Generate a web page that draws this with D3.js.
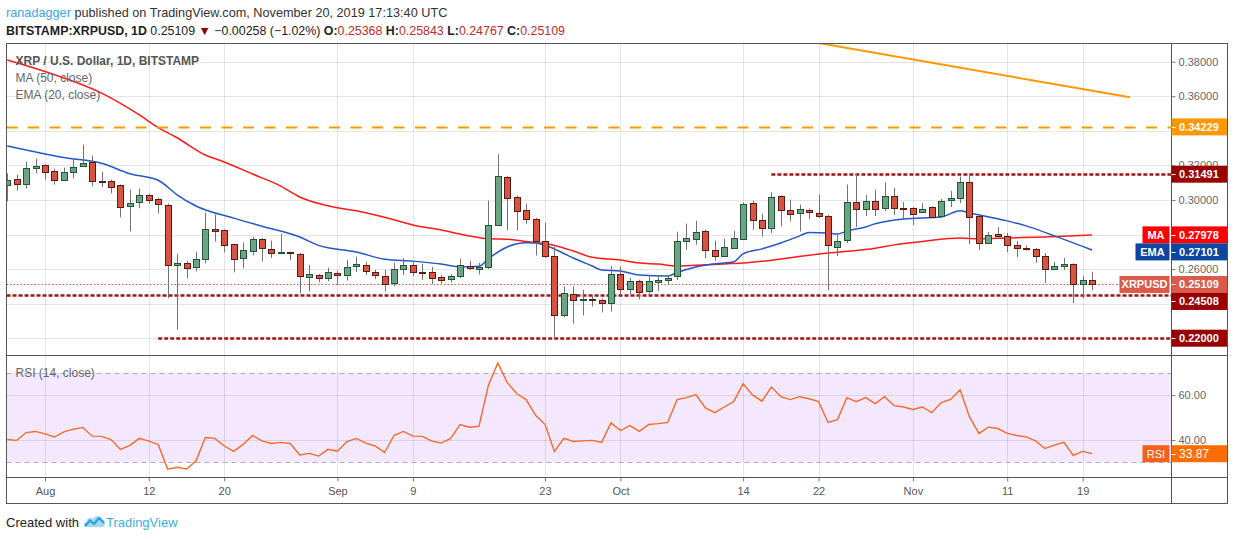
<!DOCTYPE html>
<html>
<head>
<meta charset="utf-8">
<script src="https://cdn.jsdelivr.net/npm/d3@7"></script>
<style>
body { margin: 0; background: #fff; }
svg { display: block; font-family: "Liberation Sans", Arial, sans-serif; }
</style>
</head>
<body>
<svg id="chart" width="1234" height="540"></svg>
<script>
// XRPUSD daily candles (first candle = Jul 28 2019)
var firstDay = "2019-07-28";
var opens = [0.3087,0.3120,0.3093,0.3185,0.3203,0.3168,0.3116,0.3162,0.3197,0.3220,0.3112,0.3110,0.3087,0.2963,0.2988,0.3029,0.3006,0.2971,0.2623,0.2635,
	0.2612,0.2658,0.2834,0.2828,0.2745,0.2664,0.2704,0.2776,0.2716,0.2697,0.2697,0.2687,0.2554,0.2565,0.2548,0.2577,0.2565,0.2617,0.2623,0.2583,
	0.2560,0.2519,0.2600,0.2623,0.2585,0.2583,0.2554,0.2542,0.2560,0.2617,0.2600,0.2612,0.2855,0.3133,0.3017,0.2942,0.2890,0.2762,0.2675,0.2334,
	0.2455,0.2420,0.2424,0.2420,0.2403,0.2571,0.2484,0.2530,0.2472,0.2525,0.2536,0.2559,0.2764,0.2774,0.2822,0.2710,0.2675,0.2722,0.2774,0.2982,
	0.2884,0.2838,0.3023,0.2942,0.2925,0.2942,0.2925,0.2907,0.2728,0.2768,0.2988,0.2948,0.2994,0.2953,0.3023,0.2953,0.2953,0.2930,0.2959,0.2907,
	0.3000,0.3011,0.3104,0.2907,0.2751,0.2803,0.2791,0.2739,0.2722,0.2716,0.2675,0.2600,0.2617,0.2629,0.2511,0.25368];
var highs = [0.3154,0.3147,0.3222,0.3239,0.3207,0.3181,0.3187,0.3237,0.3320,0.3257,0.3164,0.3118,0.3089,0.3060,0.3066,0.3033,0.3013,0.2979,0.2689,0.2648,
	0.2701,0.2927,0.2915,0.2830,0.2747,0.2753,0.2786,0.2780,0.2764,0.2803,0.2700,0.2693,0.2625,0.2571,0.2608,0.2589,0.2654,0.2672,0.2643,0.2596,
	0.2596,0.2635,0.2664,0.2643,0.2631,0.2612,0.2565,0.2571,0.2660,0.2648,0.2635,0.2996,0.3266,0.3137,0.3025,0.2979,0.2896,0.2869,0.2728,0.2500,
	0.2500,0.2480,0.2449,0.2430,0.2619,0.2615,0.2548,0.2538,0.2565,0.2563,0.2565,0.2816,0.2863,0.2880,0.2828,0.2764,0.2776,0.2822,0.2986,0.2996,
	0.2921,0.3044,0.3027,0.3002,0.2973,0.2950,0.3031,0.2913,0.2803,0.3089,0.3152,0.3029,0.3060,0.3102,0.3071,0.2988,0.2959,0.2982,0.2963,0.3006,
	0.3052,0.3135,0.3152,0.2910,0.2814,0.2843,0.2809,0.2762,0.2737,0.2722,0.2693,0.2641,0.2664,0.2633,0.2559,0.25843];
var lows = [0.2992,0.3056,0.3066,0.3154,0.3118,0.3089,0.3112,0.3125,0.3195,0.3079,0.3073,0.3038,0.2899,0.2818,0.2952,0.2979,0.2923,0.2432,0.2249,0.2546,
	0.2587,0.2633,0.2760,0.2697,0.2581,0.2604,0.2679,0.2645,0.2664,0.2689,0.2650,0.2459,0.2471,0.2523,0.2529,0.2507,0.2534,0.2583,0.2565,0.2542,
	0.2471,0.2500,0.2565,0.2558,0.2538,0.2513,0.2515,0.2523,0.2548,0.2594,0.2569,0.2600,0.2851,0.2824,0.2824,0.2863,0.2679,0.2664,0.2202,0.2322,
	0.2285,0.2332,0.2384,0.2349,0.2355,0.2449,0.2455,0.2424,0.2449,0.2472,0.2513,0.2536,0.2712,0.2741,0.2664,0.2648,0.2670,0.2718,0.2770,0.2828,
	0.2787,0.2809,0.2847,0.2876,0.2818,0.2888,0.2896,0.2478,0.2675,0.2751,0.2843,0.2907,0.2907,0.2936,0.2913,0.2890,0.2855,0.2925,0.2897,0.2901,
	0.2959,0.2982,0.2745,0.2710,0.2747,0.2774,0.2699,0.2670,0.2706,0.2635,0.2519,0.2594,0.2594,0.2403,0.2430,0.24767];
var closes = [0.3114,0.3093,0.3185,0.3197,0.3162,0.3116,0.3162,0.3191,0.3214,0.3110,0.3108,0.3075,0.2959,0.2982,0.3029,0.3000,0.2977,0.2623,0.2635,0.2606,
	0.2660,0.2832,0.2820,0.2739,0.2658,0.2710,0.2776,0.2722,0.2693,0.2700,0.2691,0.2559,0.2571,0.2548,0.2583,0.2565,0.2614,0.2631,0.2589,0.2565,
	0.2513,0.2600,0.2623,0.2583,0.2581,0.2548,0.2536,0.2560,0.2623,0.2606,0.2612,0.2855,0.3139,0.3012,0.2936,0.2890,0.2762,0.2674,0.2334,0.2461,
	0.2421,0.2424,0.2420,0.2403,0.2571,0.2484,0.2530,0.2467,0.2530,0.2536,0.2550,0.2764,0.2782,0.2816,0.2710,0.2675,0.2728,0.2780,0.2977,0.2884,
	0.2838,0.3017,0.2942,0.2919,0.2948,0.2932,0.2909,0.2739,0.2762,0.2988,0.2948,0.2994,0.2948,0.3023,0.2953,0.2948,0.2919,0.2948,0.2901,0.2994,
	0.3011,0.3104,0.2901,0.2751,0.2797,0.2791,0.2739,0.2722,0.2716,0.2675,0.2600,0.2617,0.2629,0.2511,0.25367,0.25109];

// RSI (14) one value per candle
var rsiValues = [40.2,39.8,43.3,43.8,42.7,41.3,43.6,44.8,45.6,41.7,41.6,40.2,35.8,37.6,40.7,39.5,38.0,27.0,27.8,27.0,
	30.6,41.1,40.7,37.3,34.9,38.0,42.0,39.6,38.4,38.9,38.4,33.3,34.0,32.8,35.8,35.0,39.3,40.7,38.6,37.3,
	34.4,42.1,43.8,41.7,41.6,39.5,38.6,40.7,46.9,45.7,46.1,64.4,74.4,65.6,60.7,58.0,51.0,47.0,34.9,40.7,
	39.3,39.6,39.8,38.9,47.6,44.2,46.4,43.8,46.9,47.3,47.8,58.0,58.9,60.2,54.3,52.2,54.7,57.1,65.1,60.1,
	57.3,63.6,59.3,58.0,59.3,58.4,57.1,47.8,49.1,58.9,57.1,58.9,56.2,59.3,55.3,54.7,53.6,54.7,52.2,56.7,
	58.1,62.4,50.3,42.9,45.7,45.1,42.9,42.0,41.4,39.6,36.2,37.7,38.9,33.1,34.9,33.87];

// MA (50) and EMA (20) read at points along the curves
var maDates = ["2019-07-28","2019-08-01","2019-08-07","2019-08-11","2019-08-13","2019-08-15","2019-08-18","2019-08-20","2019-08-23","2019-08-26",
	"2019-08-28","2019-09-01","2019-09-03","2019-09-07","2019-09-09","2019-09-12","2019-09-15","2019-09-17","2019-09-19","2019-09-21",
	"2019-09-24","2019-09-26","2019-09-28","2019-10-01","2019-10-03","2019-10-05","2019-10-07","2019-10-09","2019-10-12","2019-10-14",
	"2019-10-16","2019-10-19","2019-10-21","2019-10-24","2019-10-28","2019-10-30","2019-11-02","2019-11-06","2019-11-08","2019-11-11",
	"2019-11-15","2019-11-20"];
var maValues = [0.3810,0.3743,0.3618,0.3492,0.3419,0.3360,0.3260,0.3220,0.3150,0.3080,
	0.3017,0.2955,0.2937,0.2885,0.2855,0.2826,0.2791,0.2775,0.2773,0.2760,
	0.2737,0.2705,0.2668,0.2652,0.2635,0.2629,0.2618,0.2622,0.2630,0.2635,
	0.2645,0.2666,0.2680,0.2698,0.2720,0.2740,0.2760,0.2780,0.2775,0.2780,
	0.2786,0.27978];
var emaDates = ["2019-07-28","2019-08-01","2019-08-03","2019-08-07","2019-08-10","2019-08-13","2019-08-15","2019-08-17","2019-08-21","2019-08-24",
	"2019-08-28","2019-08-30","2019-09-03","2019-09-06","2019-09-09","2019-09-12","2019-09-14","2019-09-16","2019-09-17","2019-09-19",
	"2019-09-21","2019-09-22","2019-09-23","2019-09-26","2019-09-28","2019-09-29","2019-10-01","2019-10-03","2019-10-06","2019-10-07",
	"2019-10-09","2019-10-11","2019-10-13","2019-10-14","2019-10-16","2019-10-18","2019-10-20","2019-10-21","2019-10-23","2019-10-24",
	"2019-10-25","2019-10-27","2019-10-28","2019-10-31","2019-11-04","2019-11-06","2019-11-07","2019-11-11","2019-11-13","2019-11-16",
	"2019-11-20"];
var emaValues = [0.3312,0.3266,0.3245,0.3212,0.3152,0.3114,0.3030,0.2965,0.2895,0.2848,
	0.2786,0.2737,0.2699,0.2657,0.2646,0.2629,0.2613,0.2616,0.2660,0.2728,
	0.2752,0.2751,0.2738,0.2664,0.2618,0.2595,0.2589,0.2566,0.2560,0.2580,
	0.2612,0.2630,0.2642,0.2688,0.2717,0.2751,0.2792,0.2812,0.2809,0.2803,
	0.2820,0.2844,0.2862,0.2890,0.2902,0.2937,0.2925,0.2879,0.2850,0.2792,
	0.27101];

// drawn levels and the falling trend line
var levelValues = [0.34229, 0.31491, 0.24508, 0.22000];
var levelStarts = [null, "2019-10-17", null, "2019-08-13"];
var trendDates = ["2019-10-22", "2019-11-24"];
var trendValues = [0.3908, 0.3594];

// axes
var priceTicks = [0.22, 0.24, 0.26, 0.28, 0.30, 0.32, 0.34, 0.36, 0.38];
var rsiTicks = [40, 60];
var rsiBands = [30, 70];
var timeTicks = ["2019-08-01","2019-08-12","2019-08-20","2019-09-01","2019-09-09","2019-09-23","2019-10-01","2019-10-14","2019-10-22","2019-11-01","2019-11-11","2019-11-19"];
var timeLabels = ["Aug","12","20","Sep","9","23","Oct","14","22","Nov","11","19"];

var FONT = "'Liberation Sans', Arial, sans-serif";
var parseDay = d3.utcParse("%Y-%m-%d");
var start = parseDay(firstDay);
var days = d3.utcDay.range(start, d3.utcDay.offset(start, opens.length));

// frame geometry
var paneLeft = 6.5, axisX = 1171.5, frameRight = 1227.5;
var mainTop = 43.5, mainBottom = 355.5, rsiBottom = 477.5, frameBottom = 503.5;

var x = d3.scaleUtc()
	.domain([parseDay("2019-08-01"), parseDay("2019-11-19")])
	.range([45, 1082.7]);
var y = d3.scaleLinear().domain([0.22, 0.38]).range([338.2, 61.7]);
var yr = d3.scaleLinear().domain([23.6, 77.6]).range([476.7, 355.7]);

var svg = d3.select("#chart");
var defs = svg.append("defs");
defs.append("clipPath").attr("id", "clipMain").append("rect")
	.attr("x", paneLeft + 0.5).attr("y", mainTop + 0.5)
	.attr("width", axisX - paneLeft - 1).attr("height", mainBottom - mainTop - 1);
defs.append("clipPath").attr("id", "clipRsi").append("rect")
	.attr("x", paneLeft + 0.5).attr("y", mainBottom + 0.5)
	.attr("width", axisX - paneLeft - 1).attr("height", rsiBottom - mainBottom - 1);

// header
var head1 = svg.append("text").attr("x", 6).attr("y", 17)
	.attr("font-family", FONT).attr("font-size", 12.7).attr("fill", "#333");
head1.append("tspan").attr("fill", "#3ba7dd").text("ranadagger");
head1.append("tspan").text(" published on TradingView.com, November 20, 2019 17:13:40 UTC");

var n = closes.length;
var chg = closes[n - 1] - closes[n - 2];
var fmt5 = d3.format(".5f");
var minus = function (s) { return s.replace("-", "\u2212"); };
var head2 = svg.append("text").attr("x", 6).attr("y", 35)
	.attr("font-family", FONT).attr("font-size", 12.4).attr("fill", "#222");
head2.append("tspan").attr("font-weight", "bold").text("BITSTAMP:XRPUSD, 1D");
head2.append("tspan").text(" " + fmt5(closes[n - 1]) + " ");
head2.append("tspan").attr("fill", "#8b0000").text("\u25BC");
head2.append("tspan").text(" " + minus(fmt5(chg)) + " (" + minus(d3.format(".2f")(chg / closes[n - 2] * 100)) + "%) ");
var ohlc = [["O:", opens[n - 1]], [" H:", highs[n - 1]], [" L:", lows[n - 1]], [" C:", closes[n - 1]]];
ohlc.forEach(function (p) {
	head2.append("tspan").attr("font-weight", "bold").text(p[0]);
	head2.append("tspan").attr("fill", "#c22a2a").text(fmt5(p[1]));
});

// RSI background band
svg.append("rect")
	.attr("x", paneLeft + 0.5).attr("width", axisX - paneLeft - 1)
	.attr("y", yr(rsiBands[1])).attr("height", yr(rsiBands[0]) - yr(rsiBands[1]))
	.attr("fill", "#f4e8fe");

// grid
var grid = svg.append("g").attr("stroke", "#000").attr("stroke-opacity", 0.1);
grid.selectAll("line.v").data(timeTicks).enter().append("line")
	.attr("x1", function (d) { return Math.round(x(parseDay(d))) + 0.5; })
	.attr("x2", function (d) { return Math.round(x(parseDay(d))) + 0.5; })
	.attr("y1", mainTop).attr("y2", rsiBottom);
grid.selectAll("line.p").data(priceTicks).enter().append("line")
	.attr("x1", paneLeft).attr("x2", axisX)
	.attr("y1", function (d) { return Math.round(y(d)) + 0.5; })
	.attr("y2", function (d) { return Math.round(y(d)) + 0.5; });
grid.selectAll("line.r").data(rsiTicks).enter().append("line")
	.attr("x1", paneLeft).attr("x2", axisX)
	.attr("y1", function (d) { return Math.round(yr(d)) + 0.5; })
	.attr("y2", function (d) { return Math.round(yr(d)) + 0.5; });

// RSI 30 / 70 dashed bounds
svg.append("g").selectAll("line").data(rsiBands).enter().append("line")
	.attr("x1", paneLeft).attr("x2", axisX)
	.attr("y1", function (d) { return Math.round(yr(d)) + 0.5; })
	.attr("y2", function (d) { return Math.round(yr(d)) + 0.5; })
	.attr("stroke", "#b3a9b8").attr("stroke-dasharray", "5,4");

// main pane
var main = svg.append("g").attr("clip-path", "url(#clipMain)");

var candles = days.map(function (d, i) {
	return { date: d, o: opens[i], h: highs[i], l: lows[i], c: closes[i] };
});

// MA / EMA under the candles
var curve = d3.line()
	.x(function (d) { return x(d[0]); })
	.y(function (d) { return y(d[1]); })
	.curve(d3.curveMonotoneX);
main.append("path")
	.datum(maDates.map(function (d, i) { return [parseDay(d), maValues[i]]; }))
	.attr("d", curve).attr("fill", "none").attr("stroke", "#ff1a1a").attr("stroke-width", 1.5);
main.append("path")
	.datum(emaDates.map(function (d, i) { return [parseDay(d), emaValues[i]]; }))
	.attr("d", curve).attr("fill", "none").attr("stroke", "#2458c4").attr("stroke-width", 1.5);

// levels
var levelColors = ["#ff9800", "#a01515", "#a01515", "#a01515"];
var levelDash = ["11,10.5", "4,2", "4,2", "4,2"];
levelValues.forEach(function (v, i) {
	var yy = Math.round(y(v)) + 0.5;
	main.append("line")
		.attr("x1", levelStarts[i] ? x(parseDay(levelStarts[i])) : paneLeft)
		.attr("x2", axisX)
		.attr("y1", yy).attr("y2", yy)
		.attr("stroke", levelColors[i])
		.attr("stroke-width", i == 0 ? 2 : 2.5)
		.attr("stroke-dasharray", levelDash[i]);
});

// last price dotted line
var lastY = Math.round(y(closes[n - 1])) + 0.5;
main.append("line")
	.attr("x1", paneLeft).attr("x2", axisX).attr("y1", lastY).attr("y2", lastY)
	.attr("stroke", "#d75442").attr("stroke-dasharray", "1.5,2");

// trend line
main.append("line")
	.attr("x1", x(parseDay(trendDates[0]))).attr("y1", y(trendValues[0]))
	.attr("x2", x(parseDay(trendDates[1]))).attr("y2", y(trendValues[1]))
	.attr("stroke", "#ff9800").attr("stroke-width", 2);

// candles
var gC = main.append("g");
gC.selectAll("line").data(candles).enter().append("line")
	.attr("x1", function (d) { return Math.round(x(d.date)) + 0.5; })
	.attr("x2", function (d) { return Math.round(x(d.date)) + 0.5; })
	.attr("y1", function (d) { return y(d.h); })
	.attr("y2", function (d) { return y(d.l); })
	.attr("stroke", "#737375");
gC.selectAll("rect").data(candles).enter().append("rect")
	.attr("x", function (d) { return Math.round(x(d.date)) - 2.5; })
	.attr("width", 6)
	.attr("y", function (d) { return Math.round(y(Math.max(d.o, d.c))) + 0.5; })
	.attr("height", function (d) {
		return Math.max(1, Math.round(y(Math.min(d.o, d.c))) - Math.round(y(Math.max(d.o, d.c))));
	})
	.attr("fill", function (d) { return d.c >= d.o ? "#6ba583" : "#d75442"; })
	.attr("stroke", function (d) { return d.c >= d.o ? "#225437" : "#5b1a13"; });

// RSI line
svg.append("path")
	.attr("clip-path", "url(#clipRsi)")
	.datum(days.map(function (d, i) { return [d, rsiValues[i]]; }))
	.attr("d", d3.line().x(function (d) { return x(d[0]); }).y(function (d) { return yr(d[1]); }))
	.attr("fill", "none").attr("stroke", "#f46a2a").attr("stroke-width", 1.4);

// pane titles
var titles = svg.append("g").attr("font-family", FONT).attr("font-size", 12);
titles.append("text").attr("x", 15.5).attr("y", 64.5).attr("font-weight", "bold").attr("fill", "#555")
	.text("XRP / U.S. Dollar, 1D, BITSTAMP");
titles.append("text").attr("x", 15.5).attr("y", 81.5).attr("fill", "#666").text("MA (50, close)");
titles.append("text").attr("x", 15.5).attr("y", 98.5).attr("fill", "#666").text("EMA (20, close)");
titles.append("text").attr("x", 15.5).attr("y", 376.5).attr("fill", "#666").text("RSI (14, close)");

// price tags on the right axis, pushed apart when they collide
var tags = [
	{ v: levelValues[0], color: "#ff9800" },
	{ v: levelValues[1], color: "#990000" },
	{ v: maValues[maValues.length - 1], color: "#ff0000", name: "MA", w: 27 },
	{ v: emaValues[emaValues.length - 1], color: "#0c46a0", name: "EMA", w: 34 },
	{ v: closes[n - 1], color: "#da5a4b", name: "XRPUSD", w: 50 },
	{ v: levelValues[2], color: "#990000" },
	{ v: levelValues[3], color: "#990000" }
];
var tagH = 17;
var lastBottom = -1e9;
tags.forEach(function (t) {
	t.cy = Math.max(y(t.v), lastBottom + tagH / 2);
	lastBottom = t.cy + tagH / 2;
});

// price axis; a tick label under a tag is dropped, or cut to the part that shows
var gPrice = svg.append("g").attr("transform", "translate(" + axisX + ",0)")
	.call(d3.axisRight(y).tickValues(priceTicks).tickSize(4).tickPadding(3).tickFormat(d3.format(".5f")));
gPrice.select(".domain").remove();
gPrice.attr("font-family", FONT).attr("font-size", 11);
gPrice.selectAll("text").attr("fill", "#666");
gPrice.selectAll("line").attr("stroke", "#777");
gPrice.selectAll(".tick").each(function (d) {
	var ty = y(d);
	var hit = tags.filter(function (t) { return Math.abs(t.cy - ty) < tagH / 2 + 5; })[0];
	if (!hit) return;
	var top = hit.cy - tagH / 2;
	if (ty + 4 < top) return;
	var label = d3.select(this).select("text");
	if (ty - 5 >= top) { label.remove(); return; }
	label.style("clip-path", "inset(0 0 " + Math.max(0, ty + 5 - top) + "px 0)");
});

var gRsiAxis = svg.append("g").attr("transform", "translate(" + axisX + ",0)")
	.call(d3.axisRight(yr).tickValues(rsiTicks).tickSize(4).tickPadding(3).tickFormat(d3.format(".2f")));
gRsiAxis.select(".domain").remove();
gRsiAxis.attr("font-family", FONT).attr("font-size", 11);
gRsiAxis.selectAll("text").attr("fill", "#666");
gRsiAxis.selectAll("line").attr("stroke", "#777");

// time axis
var gTime = svg.append("g").attr("transform", "translate(0," + rsiBottom + ")")
	.call(d3.axisBottom(x).tickValues(timeTicks.map(parseDay)).tickSize(4).tickPadding(6)
		.tickFormat(function (d, i) { return timeLabels[i]; }));
gTime.select(".domain").remove();
gTime.attr("font-family", FONT).attr("font-size", 11);
gTime.selectAll("text").attr("fill", "#555");
gTime.selectAll("line").attr("stroke", "#777");

// frame and pane separators
var frame = svg.append("g").attr("stroke", "#555").attr("fill", "none");
frame.append("rect").attr("x", paneLeft).attr("y", mainTop)
	.attr("width", frameRight - paneLeft).attr("height", frameBottom - mainTop);
frame.append("line").attr("x1", paneLeft).attr("x2", frameRight).attr("y1", mainBottom).attr("y2", mainBottom);
frame.append("line").attr("x1", paneLeft).attr("x2", frameRight).attr("y1", rsiBottom).attr("y2", rsiBottom);
frame.append("line").attr("x1", axisX).attr("x2", axisX).attr("y1", mainTop).attr("y2", frameBottom);

function drawTag(g, cy, color, text, name, w) {
	g.append("rect").attr("x", axisX).attr("y", cy - tagH / 2)
		.attr("width", frameRight - axisX - 0.5).attr("height", tagH).attr("fill", color);
	g.append("line").attr("x1", axisX).attr("x2", axisX + 4)
		.attr("y1", Math.round(cy) + 0.5).attr("y2", Math.round(cy) + 0.5).attr("stroke", "#fff");
	g.append("text").attr("x", axisX + 7.5).attr("y", cy).attr("dy", "0.35em")
		.attr("font-weight", "bold").attr("fill", "#fff").text(text);
	if (name) {
		g.append("rect").attr("x", axisX - 2 - w).attr("y", cy - tagH / 2)
			.attr("width", w).attr("height", tagH).attr("fill", color);
		g.append("text").attr("x", axisX - 2 - w / 2).attr("y", cy).attr("dy", "0.35em")
			.attr("text-anchor", "middle").attr("font-weight", "bold").attr("fill", "#fff").text(name);
	}
}

var gTags = svg.append("g").attr("font-family", FONT).attr("font-size", 11);
tags.forEach(function (t) {
	drawTag(gTags, t.cy, t.color, fmt5(t.v), t.name, t.w);
});
var lastRsi = rsiValues[rsiValues.length - 1];
gTags.append("rect").attr("x", axisX - 2 - 27).attr("y", yr(lastRsi) - tagH / 2)
	.attr("width", 27).attr("height", tagH).attr("fill", "#f4611d");
gTags.append("text").attr("x", axisX - 2 - 13.5).attr("y", yr(lastRsi)).attr("dy", "0.35em")
	.attr("text-anchor", "middle").attr("fill", "#fff").text("RSI");
gTags.append("rect").attr("x", axisX).attr("y", yr(lastRsi) - tagH / 2)
	.attr("width", frameRight - axisX - 0.5).attr("height", tagH).attr("fill", "#ff6d00");
gTags.append("line").attr("x1", axisX).attr("x2", axisX + 4)
	.attr("y1", Math.round(yr(lastRsi)) + 0.5).attr("y2", Math.round(yr(lastRsi)) + 0.5).attr("stroke", "#fff");
gTags.append("text").attr("x", axisX + 7.5).attr("y", yr(lastRsi)).attr("dy", "0.35em")
	.attr("fill", "#fff").attr("font-size", 12).text(d3.format(".2f")(lastRsi));

// footer
var foot = svg.append("g").attr("font-family", FONT).attr("font-size", 13);
foot.append("text").attr("x", 6).attr("y", 527).attr("fill", "#222").text("Created with");
var logo = foot.append("g").attr("transform", "translate(83,514)");
logo.append("path")
	.attr("d", "M3,13 C0,13 0,8 3.5,8 C3.5,4 8,2.5 10.5,5 C12,1 18,1 19,5.5 C22.5,5.5 23,13 19.5,13 Z")
	.attr("fill", "#9fd8f2");
logo.append("path")
	.attr("d", "M2,12 L7,6.5 L11,10 L16,4 L21,9")
	.attr("fill", "none").attr("stroke", "#2aa3dc").attr("stroke-width", 2.2).attr("stroke-linejoin", "round");
foot.append("text").attr("x", 106).attr("y", 527).attr("fill", "#3bb0e3").text("TradingView");
</script>
</body>
</html>
